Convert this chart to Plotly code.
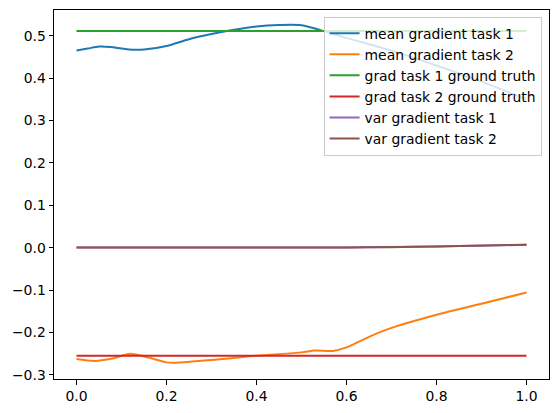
import plotly.graph_objects as go

# ---- data ----
x_task1 = [0, 0.025, 0.05, 0.075, 0.1, 0.125, 0.15, 0.2, 0.25, 0.3, 0.35, 0.4, 0.45, 0.5, 0.55, 0.6, 0.7, 0.8, 0.9, 1.0]
mean_grad_task1 = [0.4655, 0.470, 0.4745, 0.4735, 0.470, 0.467, 0.4675, 0.476, 0.492, 0.504, 0.514, 0.522, 0.5255, 0.525, 0.511, 0.495, 0.465, 0.430, 0.392, 0.350]

x_task2 = [0, 0.04, 0.08, 0.12, 0.16, 0.2, 0.22, 0.3, 0.4, 0.5, 0.53, 0.57, 0.6, 0.65, 0.7, 0.8, 0.9, 1.0]
mean_grad_task2 = [-0.2624, -0.267, -0.261, -0.2498, -0.259, -0.2703, -0.271, -0.2648, -0.2545, -0.2467, -0.2425, -0.2432, -0.235, -0.210, -0.189, -0.158, -0.132, -0.1056]

x_truth = [0.0, 1.0]
grad_task1_truth = [0.511, 0.511]
grad_task2_truth = [-0.2545, -0.2545]

x_var = [0, 0.2, 0.4, 0.6, 0.7, 0.8, 0.9, 1.0]
var_grad_task1 = [0.0005, 0.0006, 0.0007, 0.0008, 0.0015, 0.0030, 0.0050, 0.0070]
var_grad_task2 = [0.0004, 0.0006, 0.0006, 0.0008, 0.0016, 0.0031, 0.0052, 0.0072]

x_ticks = [0.0, 0.2, 0.4, 0.6, 0.8, 1.0]
y_ticks = [-0.3, -0.2, -0.1, 0.0, 0.1, 0.2, 0.3, 0.4, 0.5]

series = [
    ("mean gradient task 1", x_task1, mean_grad_task1, "#1f77b4", True),
    ("mean gradient task 2", x_task2, mean_grad_task2, "#ff7f0e", True),
    ("grad task 1 ground truth", x_truth, grad_task1_truth, "#2ca02c", False),
    ("grad task 2 ground truth", x_truth, grad_task2_truth, "#d62728", False),
    ("var gradient task 1", x_var, var_grad_task1, "#9467bd", True),
    ("var gradient task 2", x_var, var_grad_task2, "#8c564b", True),
]

fig = go.Figure()
for i, (name, xs, ys, color, smooth) in enumerate(series):
    line = dict(color=color, width=2)
    if smooth:
        line.update(shape="spline", smoothing=0.8)
    fig.add_trace(go.Scatter(x=xs, y=ys, mode="lines", name=name, line=line,
                             legendgroup=f"g{i}"))

font = dict(family="DejaVu Sans", size=13.9, color="#000000")
axis_common = dict(showgrid=False, zeroline=False, showline=True, linecolor="#000000",
                   linewidth=1, mirror=True, ticks="outside", ticklen=4.5,
                   tickcolor="#000000", tickwidth=1, tickfont=font, tickformat=".1f")

# the page body adds an 8px offset; figure size and margins compensate for it
fig.update_layout(
    width=551, height=405,
    margin=dict(l=45.5, r=9.5, t=2.3, b=34),
    paper_bgcolor="white", plot_bgcolor="white",
    font=font,
    showlegend=True,
    legend=dict(x=0.985, y=0.982, xanchor="right", yanchor="top",
                bgcolor="rgba(255,255,255,0.8)", bordercolor="#cccccc", borderwidth=1,
                font=font, tracegroupgap=1.5, traceorder="normal"),
    xaxis=dict(range=[-0.05, 1.05], tickvals=x_ticks, **axis_common),
    yaxis=dict(range=[-0.3095, 0.5608], tickvals=y_ticks, **axis_common),
)

fig.write_html("out.html")
